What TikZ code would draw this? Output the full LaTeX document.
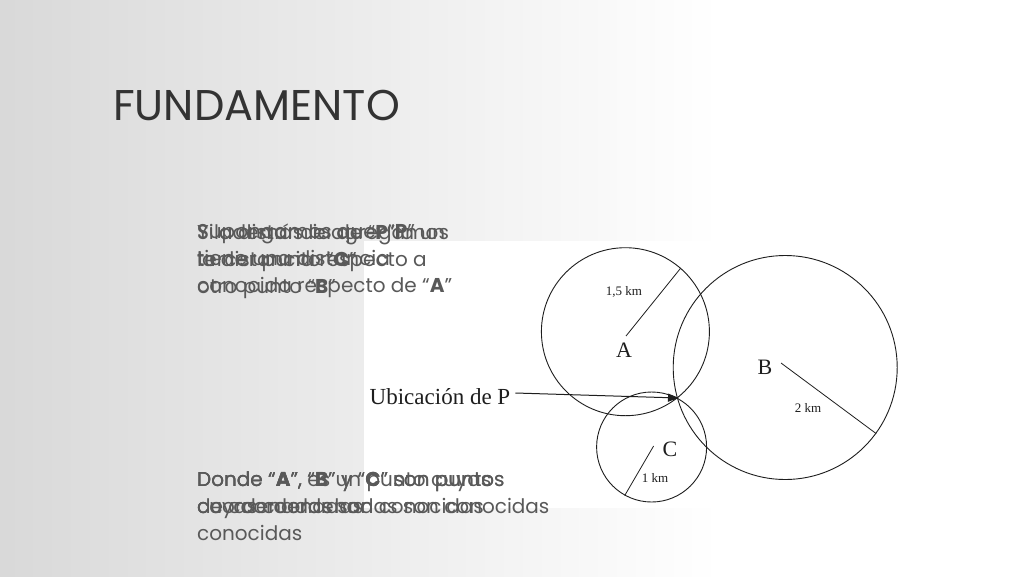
\documentclass[tikz,border=0pt]{standalone}
\usepackage{fontspec}
\setmainfont{Poppins}
\newfontfamily\timesf{Liberation Serif}
\usetikzlibrary{arrows.meta}
\definecolor{slidetext}{HTML}{595959}
\definecolor{titletext}{HTML}{333333}
\definecolor{ink}{HTML}{1E1E1E}
\tikzset{
  bodytext/.style={anchor=north west, inner sep=0pt, align=left, text=slidetext,
    font=\fontsize{20}{27}\selectfont},
  ring/.style={circle, draw=ink, line width=0.9pt, inner sep=0pt},
  figlabel/.style={inner sep=0pt, text=ink, font=\timesf\fontsize{22}{24}\selectfont},
  smalllabel/.style={inner sep=0pt, text=ink, font=\timesf\fontsize{13}{15}\selectfont},
  radius line/.style={draw=ink, line width=0.8pt}
}
\begin{document}
\begin{tikzpicture}[x=1pt,y=-1pt]
\useasboundingbox (0,0) rectangle (1024,576);
% background
\shade[left color=black!15, right color=white] (0,0) rectangle (720,576);
\fill[white] (719,0) rectangle (1024,576);
% white picture area
\fill[white] (364,241) rectangle (920,508);
% title
\node[anchor=base west, inner sep=0pt, text=titletext, font=\fontsize{43}{46}\selectfont] (title) at (113,120) {FUNDAMENTO};
% overlapping text layers (top)
\node[bodytext] (t1) at (197,224) {Supongamos que: “\textbf{P}”\\tiene una distancia\\conocida respecto de “\textbf{A}”};
\node[bodytext] (t2) at (197,224) {Y la distancia de “\textbf{P}” a un\\tercer punto “\textbf{C}”};
\node[bodytext] (t3) at (197,224) {Si además le agregamos\\la distancia respecto a\\otro punto “\textbf{B}”};
% overlapping text layers (bottom)
\node[bodytext] (b1) at (197,471) {Donde “\textbf{A}”, “\textbf{B}” y “\textbf{C}” son puntos\\cuyas coordenadas son conocidas};
\node[bodytext] (b2) at (197,471) {Donde “\textbf{A}”, es un punto cuyas\\coordenadas son conocidas};
\node[bodytext] (b3) at (197,471) {Donde “\textbf{A}”, “\textbf{B}” y “\textbf{C}” son puntos\\de coordenadas\\conocidas};
% circles
\node[ring, minimum size=168pt] (cA) at (625.4,331.7) {};
\node[ring, minimum size=224pt] (cB) at (785.2,367.5) {};
\node[ring, minimum size=110pt] (cC) at (651.6,447) {};
\coordinate (rA) at (626,336);
\coordinate (rB) at (781,363);
\coordinate (rC) at (653.6,446);
\draw[radius line] (rA) -- (cA.49);
\draw[radius line] (rB) -- (cB.-36.4);
\draw[radius line] (rC) -- (cC.241);
% labels
\node[smalllabel] (l15) at (624,292) {1,5 km};
\node[figlabel] (lA) at (624,350) {A};
\node[figlabel] (lB) at (765,367) {B};
\node[smalllabel] (l2) at (808,408) {2 km};
\node[figlabel] (lC) at (670,449) {C};
\node[smalllabel] (l1) at (655,478) {1 km};
% location of P
\node[inner sep=0pt, text=ink, font=\timesf\fontsize{23}{25}\selectfont] (ubic) at (440,397) {Ubicación de P};
\coordinate (P) at (679,398);
\draw[ink, line width=1pt, -{Triangle[length=11pt,width=8pt]}] (ubic.east) ++(5,-4) coordinate (ustart) -- (P);
\end{tikzpicture}
\end{document}
